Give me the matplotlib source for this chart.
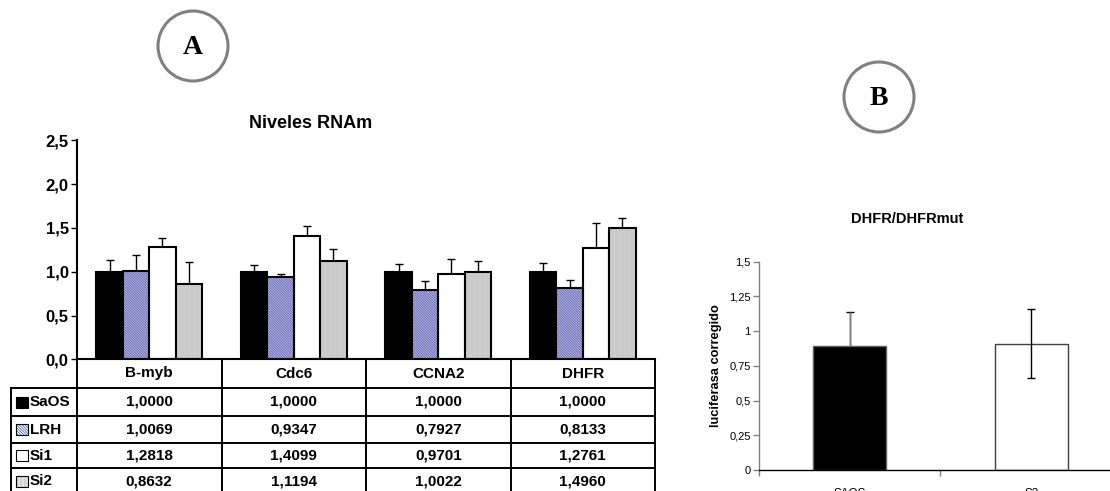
import matplotlib
matplotlib.use("Agg")
import matplotlib.pyplot as plt
import numpy as np
from matplotlib.patches import Rectangle, Ellipse
from matplotlib.transforms import blended_transform_factory

plt.rcParams['font.family'] = ['Liberation Sans', 'DejaVu Sans']
plt.rcParams['hatch.linewidth'] = 0.5

# ---------------- data ----------------
genes = ["B-myb", "Cdc6", "CCNA2", "DHFR"]
series = ["SaOS", "LRH", "Si1", "Si2"]
saos = [1.0000, 1.0000, 1.0000, 1.0000]
lrh = [1.0069, 0.9347, 0.7927, 0.8133]
si1 = [1.2818, 1.4099, 0.9701, 1.2761]
si2 = [0.8632, 1.1194, 1.0022, 1.4960]
err_saos = [0.13, 0.08, 0.09, 0.10]
err_lrh = [0.18, 0.035, 0.10, 0.09]
err_si1 = [0.10, 0.115, 0.17, 0.28]
err_si2 = [0.25, 0.14, 0.115, 0.12]
yticks_a = [0.0, 0.5, 1.0, 1.5, 2.0, 2.5]

b_cats = ["SAOS", "S2"]
b_vals = [0.89, 0.91]
b_err = [0.25, 0.25]
yticks_b = [0, 0.25, 0.5, 0.75, 1, 1.25, 1.5]

W, H = 1110, 491
fig = plt.figure(figsize=(W / 100, H / 100), dpi=100)

LRH_HATCH = '\\' * 20
SI2_HATCH = '|' * 20
LRH_COL = '#4646aa'
SI2_FACE = '#f2f2f2'
SI2_HCOL = '#c4c4c4'

# ---------------- panel A ----------------
axA = fig.add_axes([77 / W, 1 - 359.3 / H, 578 / W, 219 / H])
x = np.arange(len(genes))
bw = 0.183
offs = [-1.5 * bw, -0.5 * bw, 0.5 * bw, 1.5 * bw]
vals = [saos, lrh, si1, si2]
errs = [err_saos, err_lrh, err_si1, err_si2]

for v, e, o in zip(vals, errs, offs):
    axA.errorbar(x + o, v, yerr=[np.zeros(len(e)), e], fmt='none',
                 ecolor='black', elinewidth=1.0, capsize=3, capthick=1.0, zorder=1)

axA.bar(x + offs[0], saos, bw, color='black', edgecolor='black', linewidth=1.5, zorder=2)
axA.bar(x + offs[1], lrh, bw, color='white', edgecolor=LRH_COL, hatch=LRH_HATCH,
        linewidth=0, zorder=2)
axA.bar(x + offs[1], lrh, bw, fill=False, edgecolor='black', linewidth=1.5, zorder=3)
axA.bar(x + offs[2], si1, bw, color='white', edgecolor='black', linewidth=1.5, zorder=2)
axA.bar(x + offs[3], si2, bw, color=SI2_FACE, edgecolor=SI2_HCOL, hatch=SI2_HATCH,
        linewidth=0, zorder=2)
axA.bar(x + offs[3], si2, bw, fill=False, edgecolor='black', linewidth=1.5, zorder=3)

axA.set_xlim(-0.5, len(genes) - 0.5)
axA.set_ylim(0, 2.5)
axA.set_yticks(yticks_a)
axA.set_yticklabels([f"{t:.1f}".replace('.', ',') for t in yticks_a],
                    fontsize=12, fontweight='bold')
axA.set_xticks([])
for s in ['top', 'right']:
    axA.spines[s].set_visible(False)
axA.spines['left'].set_linewidth(1.5)
axA.spines['bottom'].set_linewidth(1.5)
axA.tick_params(axis='y', direction='out', length=4, width=1, pad=2)

fig.text(311 / W, 1 - 123 / H, "Niveles RNAm", ha='center', va='center',
         fontsize=13, fontweight='bold')

# ---------------- table under panel A ----------------
tr = blended_transform_factory(axA.transData, axA.transAxes)
pxu = 578 / 4.0
def dx(px):
    return -0.5 + (px - 77) / pxu
def fy(py):
    return (359.3 - py) / 219.0

left = dx(11)
right = len(genes) - 0.5
row_edges = [388, 416, 443, 468, 494]
lw = 1.4
for py in row_edges:
    axA.plot([left, right], [fy(py), fy(py)], color='black', lw=lw, transform=tr, clip_on=False)
for b in np.arange(len(genes) + 1) - 0.5:
    axA.plot([b, b], [0, fy(494)], color='black', lw=lw, transform=tr, clip_on=False)
axA.plot([left, left], [fy(388), fy(494)], color='black', lw=lw, transform=tr, clip_on=False)

for i, g in enumerate(genes):
    axA.text(i, fy(373.5), g, ha='center', va='center', fontsize=11, fontweight='bold',
             transform=tr, clip_on=False)

row_centers = [402, 429.5, 455.5, 481]
sw_face = ['black', 'white', 'white', SI2_FACE]
sw_hatch = [None, '\\' * 12, None, '|' * 12]
sw_hcol = ['black', LRH_COL, 'black', SI2_HCOL]
for r, (name, v) in enumerate(zip(series, vals)):
    yc = fy(row_centers[r])
    h = 11 / 219.0
    axA.add_patch(Rectangle((dx(16), yc - h / 2), dx(28) - dx(16), h, facecolor=sw_face[r],
                            edgecolor=sw_hcol[r], hatch=sw_hatch[r], lw=0,
                            transform=tr, clip_on=False))
    axA.add_patch(Rectangle((dx(16), yc - h / 2), dx(28) - dx(16), h, fill=False,
                            edgecolor='black', lw=0.8, transform=tr, clip_on=False))
    axA.text(dx(30), yc, name, ha='left', va='center', fontsize=11, fontweight='bold',
             transform=tr, clip_on=False)
    for i in range(len(genes)):
        axA.text(i, yc, f"{v[i]:.4f}".replace('.', ','), ha='center', va='center',
                 fontsize=11, fontweight='bold', transform=tr, clip_on=False)

# ---------------- panel B ----------------
axB = fig.add_axes([759 / W, 1 - 470 / H, 363 / W, 208.3 / H])
xb = np.arange(len(b_cats)) + 0.5
axB.errorbar(xb, b_vals, yerr=b_err, fmt='none', ecolor='black', elinewidth=1.0,
             capsize=3, capthick=1.0, zorder=1)
axB.errorbar(xb[:1], b_vals[:1], yerr=[[0], [b_err[0]]], fmt='none', ecolor='#808080',
             elinewidth=1.0, capsize=0, zorder=1.5)
axB.bar(xb[0], b_vals[0], 0.40, color='black', edgecolor='#606060', linewidth=1.0, zorder=2)
axB.bar(xb[1], b_vals[1], 0.40, color='white', edgecolor='#404040', linewidth=1.0, zorder=0.5)
axB.set_xlim(0, 2)
axB.set_ylim(0, 1.5)
axB.set_yticks(yticks_b)
axB.set_yticklabels([f"{t:g}".replace('.', ',') for t in yticks_b], fontsize=8)
axB.set_xticks([0, 1, 2], minor=True)
axB.set_xticks(xb)
axB.set_xticklabels(b_cats, fontsize=8.5)
axB.tick_params(axis='x', which='major', length=0, pad=13)
axB.tick_params(axis='x', which='minor', length=4, width=1, color='#808080', direction='out')
axB.tick_params(axis='y', length=4, width=1, color='#808080', direction='out', pad=2)
for s in ['top', 'right']:
    axB.spines[s].set_visible(False)
axB.spines['left'].set_color('#808080')
axB.spines['left'].set_linewidth(1.0)
axB.spines['bottom'].set_color('black')
axB.spines['bottom'].set_linewidth(1.0)
axB.set_ylabel("luciferasa corregido", fontsize=9.3, fontweight='bold', labelpad=5)
fig.text(907 / W, 1 - 219 / H, "DHFR/DHFRmut", ha='center', va='center',
         fontsize=10.5, fontweight='bold')

# ---------------- circled letters ----------------
for (cx, cy, r, letter) in [(193, 46, 35, "A"), (879, 97, 35, "B")]:
    fig.patches.append(Ellipse((cx / W, 1 - cy / H), 2 * r / W, 2 * r / H,
                               transform=fig.transFigure, fill=False,
                               edgecolor='#808080', lw=2.2))
    fig.text(cx / W, 1 - (cy + 1) / H, letter, ha='center', va='center', fontsize=20,
             fontweight='bold', family=['Liberation Serif', 'DejaVu Serif'])

fig.savefig("out.png", dpi=100)
